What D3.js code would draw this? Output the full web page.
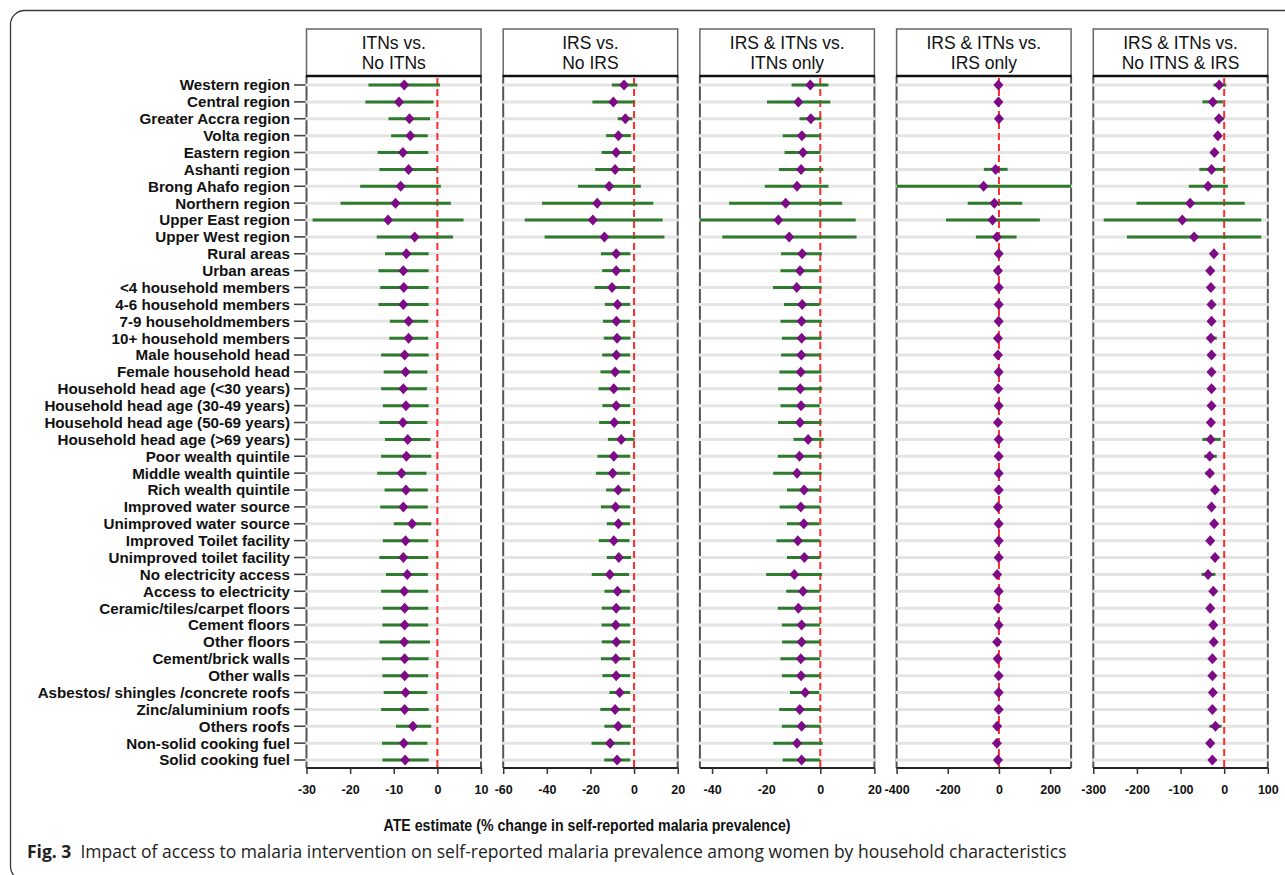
<!DOCTYPE html>
<html>
<head>
<meta charset="utf-8">
<script src="https://cdn.jsdelivr.net/npm/d3@7"></script>
<style>
  html, body { margin: 0; padding: 0; background: #fff; }
  svg { display: block; }
</style>
</head>
<body>
<svg id="chart" width="1285" height="875"></svg>
<script>
// ================= DATOS =================
const categories = [
  "Western region", "Central region", "Greater Accra region", "Volta region",
  "Eastern region", "Ashanti region", "Brong Ahafo region", "Northern region",
  "Upper East region", "Upper West region", "Rural areas", "Urban areas",
  "<4 household members", "4-6 household members", "7-9 householdmembers",
  "10+ household members", "Male household head", "Female household head",
  "Household head age (<30 years)", "Household head age (30-49 years)",
  "Household head age (50-69 years)", "Household head age (>69 years)",
  "Poor wealth quintile", "Middle wealth quintile", "Rich wealth quintile",
  "Improved water source", "Unimproved water source", "Improved Toilet facility",
  "Unimproved toilet facility", "No electricity access", "Access to electricity",
  "Ceramic/tiles/carpet floors", "Cement floors", "Other floors",
  "Cement/brick walls", "Other walls", "Asbestos/ shingles /concrete roofs",
  "Zinc/aluminium roofs", "Others roofs", "Non-solid cooking fuel", "Solid cooking fuel"
];

const panelTitles = [
  ["ITNs vs.", "No ITNs"],
  ["IRS vs.", "No IRS"],
  ["IRS & ITNs vs.", "ITNs only"],
  ["IRS & ITNs vs.", "IRS only"],
  ["IRS & ITNs vs.", "No ITNS & IRS"]
];
const panelDomains = [[-30, 10], [-60, 20], [-44.5, 20], [-400, 282], [-300, 100]];
const panelTicks = [
  [-30, -20, -10, 0, 10],
  [-60, -40, -20, 0, 20],
  [-40, -20, 0, 20],
  [-400, -200, 0, 200],
  [-300, -200, -100, 0, 100]
];

// ITNs vs No ITNs
const itnEst = [-7.6,-8.8,-6.4,-6.2,-7.9,-6.6,-8.4,-9.6,-11.3,-5.2,-7.1,-7.8,-7.7,-7.8,-6.6,-6.6,-7.5,-7.3,-7.8,-7.2,-7.9,-6.8,-7.1,-8.2,-7.2,-7.8,-5.8,-7.3,-7.8,-6.9,-7.6,-7.5,-7.5,-7.6,-7.5,-7.5,-7.3,-7.5,-5.6,-7.7,-7.4];
const itnLo = [-15.8,-16.5,-11.2,-10.6,-13.7,-13.3,-17.7,-22.2,-28.6,-13.9,-12.0,-13.5,-13.1,-13.5,-10.9,-11.0,-12.9,-12.3,-12.9,-12.5,-13.3,-12.0,-12.9,-13.8,-12.1,-13.1,-10.0,-12.5,-13.3,-11.8,-12.9,-12.5,-12.6,-13.3,-12.7,-12.6,-12.3,-12.9,-9.5,-12.7,-12.6];
const itnHi = [0.6,-0.9,-1.7,-2.2,-2.1,0.0,0.8,3.1,6.0,3.6,-2.0,-2.0,-2.0,-2.0,-2.1,-2.1,-2.0,-2.3,-2.4,-2.0,-2.3,-1.6,-1.4,-2.5,-2.2,-2.2,-1.4,-2.1,-2.1,-2.2,-2.1,-2.1,-2.1,-1.7,-2.0,-2.1,-2.3,-2.0,-1.4,-2.3,-2.0];

// IRS vs No IRS
const irsEst = [-4.6,-9.5,-4.0,-7.2,-8.2,-8.7,-11.4,-16.9,-18.9,-13.6,-8.2,-8.2,-10.1,-7.6,-8.1,-7.8,-8.1,-8.7,-9.3,-8.2,-9.1,-5.9,-9.3,-9.8,-7.3,-8.5,-7.2,-9.3,-7.0,-11.1,-7.6,-8.2,-8.4,-8.1,-8.4,-8.2,-6.6,-8.7,-7.3,-11.0,-7.8];
const irsLo = [-10.2,-19.1,-7.5,-12.8,-14.9,-17.8,-25.7,-42.2,-50.1,-41.0,-15.2,-14.6,-18.1,-13.4,-14.3,-13.9,-14.6,-15.4,-16.3,-14.5,-16.0,-12.0,-16.8,-17.5,-12.8,-15.2,-12.5,-16.2,-12.5,-19.4,-13.6,-14.8,-14.9,-14.8,-15.2,-14.5,-11.3,-15.5,-13.6,-19.5,-13.7];
const irsHi = [1.5,0.1,-0.8,-1.5,-1.2,0.1,3.1,8.8,13.1,13.9,-1.7,-1.8,-1.8,-1.8,-1.8,-1.7,-1.8,-1.8,-1.8,-1.8,-1.8,0.2,-1.8,-1.8,-1.8,-1.8,-1.8,-2.1,-1.4,-2.3,-1.8,-1.8,-1.8,-1.8,-1.8,-1.8,-1.8,-1.8,-1.4,-1.8,-1.8];

// IRS & ITNs vs ITNs only
const bothItnEst = [-3.7,-8.1,-3.5,-6.8,-6.4,-7.1,-8.6,-12.8,-15.5,-11.5,-6.7,-7.5,-8.7,-6.7,-6.9,-6.9,-7.0,-7.2,-7.4,-7.1,-7.5,-4.5,-7.7,-8.6,-6.0,-7.2,-6.1,-8.3,-5.9,-9.6,-6.4,-8.1,-6.9,-6.9,-7.2,-7.1,-5.6,-7.6,-6.9,-8.6,-6.9];
const bothItnLo = [-10.6,-19.7,-7.7,-13.9,-13.2,-15.3,-20.5,-33.7,-44.5,-36.2,-14.5,-14.7,-17.5,-13.4,-14.7,-14.2,-14.5,-15.1,-15.6,-14.7,-15.6,-9.9,-15.7,-17.4,-12.3,-15.0,-12.3,-16.2,-12.3,-20.0,-12.6,-15.7,-14.2,-14.1,-14.7,-14.2,-11.2,-15.2,-14.2,-17.4,-13.9];
const bothItnHi = [3.0,3.7,0.4,0.1,0.1,1.1,3.0,8.1,13.1,13.4,0.6,-0.4,0.5,-0.2,0.6,0.5,0.0,0.4,0.7,-0.2,0.5,1.2,0.4,0.5,-0.2,0.0,-0.4,-0.1,-0.1,0.6,-0.1,-0.1,-0.1,-0.1,-0.1,-0.1,-0.4,-0.1,0.1,0.9,-0.1];

// IRS & ITNs vs IRS only (Volta and Eastern not estimated)
const bothIrsEst = [-2,-2,0,null,null,-13,-60,-18,-25,-8,-1,-4,-1,-1,-1,-4,-4,-1,-3,-1,-4,-1,-1,-1,-1,-4,-1,-1,-1,-7,-1,-4,-1,-7,-5,-1,-1,-1,-7,-8,-4];
const bothIrsLo = [-10,-10,-8,null,null,-59,-420,-122,-207,-90,-9,-12,-9,-9,-9,-12,-12,-9,-11,-9,-12,-9,-9,-9,-9,-12,-9,-9,-9,-15,-9,-12,-9,-15,-13,-9,-9,-9,-15,-16,-12];
const bothIrsHi = [6,6,8,null,null,34,300,91,160,69,7,4,7,7,7,4,4,7,5,7,4,7,7,7,7,4,7,7,7,1,7,4,7,1,3,7,7,7,1,0,4];

// IRS & ITNs vs No ITNs & IRS
const bothNoneEst = [-11.5,-26,-12,-14.6,-22.4,-29,-37,-78,-96,-69,-23.6,-32,-30.5,-29,-29,-30.5,-29,-29,-29,-29,-30.5,-31,-33,-33,-21,-29,-23,-32,-21,-37,-25,-32,-25,-24,-27,-27,-26,-27,-20,-32,-27];
const bothNoneLo = [-24.6,-50,-21,-20,-28,-57,-81,-201,-276,-223,-30,-38,-37,-35,-35,-40,-35,-35,-35,-35,-37,-50,-46,-43,-27,-35,-29,-38,-27,-52,-31,-38,-31,-30,-33,-33,-32,-33,-34,-40,-33];
const bothNoneHi = [4.6,-3,0,-8,-16,0,8.5,47,85,85,-17,-26,-24,-23,-23,-17,-23,-23,-23,-23,-24,-8,-17,-23,-15,-23,-17,-26,-15,-20,-19,-26,-19,-18,-21,-21,-20,-21,-6,-25,-21];

const panelSeries = [
  [itnEst, itnLo, itnHi],
  [irsEst, irsLo, irsHi],
  [bothItnEst, bothItnLo, bothItnHi],
  [bothIrsEst, bothIrsLo, bothIrsHi],
  [bothNoneEst, bothNoneLo, bothNoneHi]
];

// ================= LAYOUT =================
const svg = d3.select("#chart");
const FONT = "'Liberation Sans', Arial, sans-serif";
const panelLeft0 = 306.5, panelStep = 196.7, panelW = 174.5;
const stripTop = 29, plotTop = 76, plotBottom = 768;

const y = d3.scalePoint().domain(categories).range([85, 760]);

// marco exterior redondeado
svg.append("rect")
  .attr("x", 10.5).attr("y", 10.5)
  .attr("width", 1300).attr("height", 870)
  .attr("rx", 14)
  .attr("fill", "none")
  .attr("stroke", "#3a3a3a")
  .attr("stroke-width", 1.3);

// etiquetas del eje y
const yAxisG = svg.append("g");
categories.forEach(c => {
  yAxisG.append("line")
    .attr("x1", 294).attr("x2", panelLeft0)
    .attr("y1", y(c)).attr("y2", y(c))
    .attr("stroke", "#444").attr("stroke-width", 1.6);
  yAxisG.append("text")
    .attr("x", 290).attr("y", y(c))
    .attr("dy", "0.36em")
    .attr("text-anchor", "end")
    .attr("font-family", FONT)
    .attr("font-weight", "bold")
    .attr("font-size", 15.2)
    .attr("fill", "#111")
    .text(c);
});

// ================= PANELES =================
panelTitles.forEach((title, p) => {
  const x0 = panelLeft0 + p * panelStep;
  const x = d3.scaleLinear().domain(panelDomains[p]).range([x0, x0 + panelW]).clamp(true);
  const [est, lo, hi] = panelSeries[p];
  const g = svg.append("g");

  // bordes laterales
  [x0, x0 + panelW].forEach(xx => {
    g.append("line")
      .attr("x1", xx).attr("x2", xx)
      .attr("y1", plotTop).attr("y2", plotBottom)
      .attr("stroke", "#555").attr("stroke-width", 2);
  });

  // lineas de cuadricula
  g.selectAll(".grid")
    .data(categories)
    .enter()
    .append("line")
    .attr("x1", x0 - 1).attr("x2", x0 + panelW + 1)
    .attr("y1", d => y(d)).attr("y2", d => y(d))
    .attr("stroke", "#e4e4e4").attr("stroke-width", 3);

  // linea de referencia en 0
  g.append("line")
    .attr("x1", x(0)).attr("x2", x(0))
    .attr("y1", plotTop + 2).attr("y2", plotBottom)
    .attr("stroke", "#ff2b2b").attr("stroke-width", 2)
    .attr("stroke-dasharray", "7,4");

  const rows = categories.map((c, i) => ({ c, est: est[i], lo: lo[i], hi: hi[i] }))
    .filter(d => d.est !== null);

  // intervalos de confianza
  g.selectAll(".ci")
    .data(rows)
    .enter()
    .append("line")
    .attr("x1", d => x(d.lo)).attr("x2", d => x(d.hi))
    .attr("y1", d => y(d.c)).attr("y2", d => y(d.c))
    .attr("stroke", "#2d7b2d").attr("stroke-width", 3);

  // estimaciones (rombos)
  g.selectAll(".pt")
    .data(rows)
    .enter()
    .append("path")
    .attr("d", d => {
      const cx = x(d.est), cy = y(d.c);
      return `M${cx},${cy - 5.5}L${cx + 5},${cy}L${cx},${cy + 5.5}L${cx - 5},${cy}Z`;
    })
    .attr("fill", "#7d0a86");

  // eje inferior
  const axis = g.append("g").attr("transform", `translate(0,${plotBottom})`)
    .call(d3.axisBottom(x).tickValues(panelTicks[p]).tickSize(6).tickSizeOuter(0).tickFormat(d3.format("d")));
  axis.select(".domain").attr("stroke", "#222").attr("stroke-width", 2)
    .attr("d", `M${x0},0H${x0 + panelW}`);
  axis.selectAll(".tick line").attr("stroke", "#333").attr("stroke-width", 1.5);
  axis.selectAll(".tick text")
    .attr("font-family", FONT).attr("font-size", 12.5).attr("font-weight", "bold")
    .attr("fill", "#111").attr("dy", "1.35em")
    .text(d => d3.format("d")(d).replace("−", "-"));

  // cabecera (strip)
  g.append("rect")
    .attr("x", x0).attr("y", stripTop)
    .attr("width", panelW).attr("height", plotTop - stripTop)
    .attr("fill", "#fff").attr("stroke", "#666").attr("stroke-width", 1.5);
  g.append("line")
    .attr("x1", x0 - 0.5).attr("x2", x0 + panelW + 0.5)
    .attr("y1", plotTop).attr("y2", plotTop)
    .attr("stroke", "#111").attr("stroke-width", 2.5);
  const tt = g.append("text")
    .attr("text-anchor", "middle")
    .attr("font-family", FONT).attr("font-size", 17.5)
    .attr("fill", "#111");
  title.forEach((t, k) => {
    tt.append("tspan")
      .attr("x", x0 + panelW / 2).attr("y", 48.5 + k * 20.3)
      .text(t);
  });
});

// titulo del eje x
svg.append("text")
  .attr("x", 587).attr("y", 831)
  .attr("text-anchor", "middle")
  .attr("font-family", FONT).attr("font-size", 17).attr("font-weight", "bold")
  .attr("fill", "#111")
  .attr("textLength", 407).attr("lengthAdjust", "spacingAndGlyphs")
  .text("ATE estimate (% change in self-reported malaria prevalence)");

// pie de figura
const cap = svg.append("text")
  .attr("x", 27).attr("y", 858)
  .attr("font-family", "'Open Sans', 'Noto Sans', sans-serif")
  .attr("font-size", 17.5)
  .attr("fill", "#222");
cap.append("tspan").attr("font-weight", "bold").text("Fig. 3");
cap.append("tspan").attr("dx", 9)
  .text("Impact of access to malaria intervention on self-reported malaria prevalence among women by household characteristics");
</script>
</body>
</html>
